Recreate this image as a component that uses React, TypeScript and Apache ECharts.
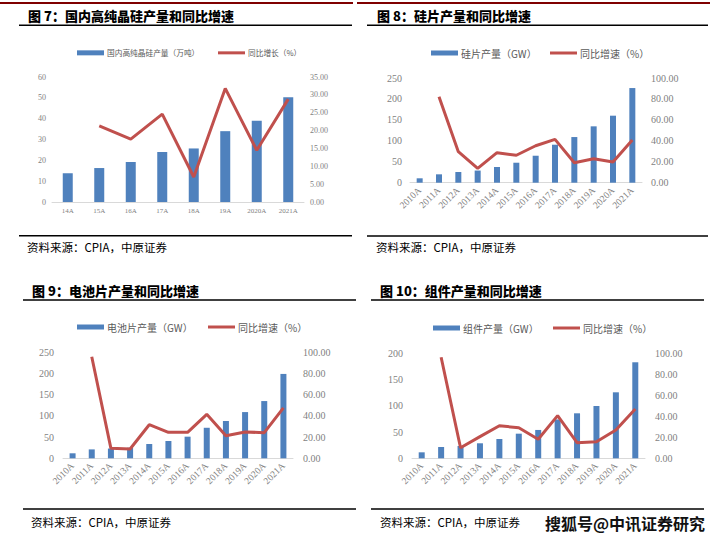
import React, { useEffect, useRef } from "react";
import * as echarts from "echarts";

const polyCats = ["14A", "15A", "16A", "17A", "18A", "19A", "2020A", "2021A"];
const polyOutput = [13.8, 16.3, 19.2, 24.0, 25.7, 34.0, 39.0, 50.3];
const polyGrowth = [null, 21.3, 17.6, 24.6, 7.0, 31.8, 14.5, 28.8];

const yearCats = ["2010A", "2011A", "2012A", "2013A", "2014A", "2015A", "2016A", "2017A", "2018A", "2019A", "2020A", "2021A"];
const waferOutput = [10.5, 20, 25.5, 29, 37.5, 47.7, 64.4, 90.7, 109, 134.6, 160, 226];
const waferGrowth = [null, 82, 29.6, 13.7, 28.7, 26.2, 35.3, 41.4, 19.1, 22.9, 19.8, 40.8];
const cellOutput = [11.8, 21, 23, 25, 33.7, 40.8, 51, 72, 88, 109, 135, 199];
const cellGrowth = [null, 95.8, 9.4, 8.8, 31.7, 24.5, 24.5, 41.5, 21.3, 24.8, 24.2, 47.5];
const moduleOutput = [11.4, 21.5, 23.4, 28.6, 36.8, 46.9, 54, 74, 85.7, 99.6, 125.7, 182.9];
const moduleGrowth = [null, 96.2, 10.1, 20.6, 31, 29.1, 18.1, 40.6, 14.9, 15.8, 27, 47];

const titles = ["图 7：国内高纯晶硅产量和同比增速", "图 8：硅片产量和同比增速", "图 9：电池片产量和同比增速", "图 10：组件产量和同比增速"];
const barNames = ["国内高纯晶硅产量（万吨）", "硅片产量（GW）", "电池片产量（GW）", "组件产量（GW）"];
const lineNames = ["同比增长（%）", "同比增速（%）", "同比增速（%）", "同比增速（%）"];
const sourceText = "资料来源：CPIA，中原证券";
const watermark = "搜狐号@中讯证券研究";

const BLUE = "#4f81bd";
const RED = "#c0504d";
const TICK = "#7f7f7f";
const SERIF = "'Liberation Serif', 'Noto Sans CJK SC', serif";
const CJK = "'Noto Sans CJK SC', sans-serif";

export default function App() {
  const ref = useRef<HTMLDivElement>(null);
  useEffect(() => {
    if (!ref.current) return;
    const chart = echarts.init(ref.current, undefined, { renderer: "svg" });

    const panels = [
      {
        cats: polyCats, bars: polyOutput, line: polyGrowth,
        grid: { left: 52, top: 77, width: 252, height: 125 },
        lmax: 60, lint: 10, rmax: 35, rint: 5,
        yFont: 8, xFont: 7, rotate: 0, barWidth: 10, lMargin: 6, rMargin: 6,
        legendY: 54, legendFont: 7.7, barLegX: 77, lineLegX: 218,
      },
      {
        cats: yearCats, bars: waferOutput, line: waferGrowth,
        grid: { left: 410, top: 78, width: 232, height: 104.7 },
        lmax: 250, lint: 50, rmax: 100, rint: 20,
        yFont: 10, xFont: 9.5, rotate: 45, barWidth: 6, lMargin: 8, rMargin: 9,
        legendY: 54, legendFont: 10, barLegX: 431, lineLegX: 550,
      },
      {
        cats: yearCats, bars: cellOutput, line: cellGrowth,
        grid: { left: 63, top: 352.3, width: 230, height: 106 },
        lmax: 250, lint: 50, rmax: 100, rint: 20,
        yFont: 10, xFont: 9.5, rotate: 45, barWidth: 6, lMargin: 9, rMargin: 10,
        legendY: 328, legendFont: 10, barLegX: 77, lineLegX: 208,
      },
      {
        cats: yearCats, bars: moduleOutput, line: moduleGrowth,
        grid: { left: 412, top: 353.3, width: 233, height: 105 },
        lmax: 200, lint: 50, rmax: 100, rint: 20,
        yFont: 10, xFont: 9.5, rotate: 45, barWidth: 6, lMargin: 9, rMargin: 10,
        legendY: 329, legendFont: 10, barLegX: 433, lineLegX: 553,
      },
    ];

    const grid: any[] = [];
    const xAxis: any[] = [];
    const yAxis: any[] = [];
    const series: any[] = [];
    const legend: any[] = [];

    panels.forEach((p, i) => {
      grid.push({ ...p.grid, containLabel: false });
      xAxis.push({
        type: "category", gridIndex: i, data: p.cats,
        axisLine: { lineStyle: { color: "#d9d9d9", width: 1 } },
        axisTick: { show: false },
        axisLabel: {
          interval: 0, rotate: p.rotate, margin: p.rotate ? 6 : 5,
          color: TICK, fontSize: p.xFont, fontFamily: SERIF,
        },
        splitLine: { show: false },
      });
      yAxis.push({
        type: "value", gridIndex: i, min: 0, max: p.lmax, interval: p.lint,
        axisLine: { show: false }, axisTick: { show: false }, splitLine: { show: false },
        axisLabel: { color: TICK, fontSize: p.yFont, fontFamily: SERIF, margin: p.lMargin },
      });
      yAxis.push({
        type: "value", gridIndex: i, position: "right", min: 0, max: p.rmax, interval: p.rint,
        axisLine: { show: false }, axisTick: { show: false }, splitLine: { show: false },
        axisLabel: {
          color: TICK, fontSize: p.yFont, fontFamily: SERIF, margin: p.rMargin,
          formatter: (v: number) => v.toFixed(2),
        },
      });
      series.push({
        type: "bar", name: barNames[i], xAxisIndex: i, yAxisIndex: 2 * i,
        data: p.bars, barWidth: p.barWidth,
        itemStyle: { color: BLUE },
      });
      series.push({
        type: "line", name: lineNames[i], xAxisIndex: i, yAxisIndex: 2 * i + 1,
        data: p.line, symbol: "none", connectNulls: false,
        lineStyle: { color: RED, width: 3 }, itemStyle: { color: RED },
      });
      const half = p.legendFont <= 8 ? 5 : 6;
      legend.push({
        data: [{ name: barNames[i], icon: "rect" }],
        left: p.barLegX, top: p.legendY - half, padding: 0,
        itemWidth: 27, itemHeight: 5, selectedMode: false,
        textStyle: { color: "#595959", fontSize: p.legendFont, fontFamily: CJK, padding: [0, 0, 0, -2] },
      });
      legend.push({
        data: [{ name: lineNames[i], icon: "rect", itemStyle: { color: RED } }],
        left: p.lineLegX, top: p.legendY - half, padding: 0,
        itemWidth: 27, itemHeight: 3, selectedMode: false,
        textStyle: { color: "#595959", fontSize: p.legendFont, fontFamily: CJK, padding: [0, 0, 0, -2] },
      });
    });

    const hline = (x1: number, x2: number, y: number, color: string, w: number) => ({
      type: "line", silent: true,
      shape: { x1, y1: y, x2, y2: y },
      style: { stroke: color, lineWidth: w },
    });
    const txt = (x: number, y: number, text: string, font: string, fill: string, extra: any = {}) => ({
      type: "text", silent: true, x, y,
      style: { text, font, fill, textVerticalAlign: "middle", ...extra },
    });

    const titleFont = `900 13px ${CJK}`;
    const srcFont = `11.5px ${CJK}`;
    const graphic: any[] = [
      hline(0, 353, 3, "#7f0000", 2),
      hline(357, 710, 3, "#7f0000", 2),
      hline(19, 352, 25.3, "#000", 1.5),
      hline(367, 708, 25.3, "#000", 1.5),
      hline(23, 356, 300, "#000", 1.5),
      hline(371, 704, 300, "#000", 1.5),
      hline(19, 352, 235.7, "#000", 1.5),
      hline(367, 708, 236, "#000", 1.5),
      hline(23, 356, 509, "#000", 1.5),
      hline(371, 704, 509, "#000", 1.5),
      txt(28, 15, titles[0], titleFont, "#000"),
      txt(377, 15, titles[1], titleFont, "#000"),
      txt(32, 290, titles[2], titleFont, "#000"),
      txt(380, 290, titles[3], titleFont, "#000"),
      txt(27, 247, sourceText, srcFont, "#000"),
      txt(376, 247, sourceText, srcFont, "#000"),
      txt(31, 522, sourceText, srcFont, "#000"),
      txt(380, 522, sourceText, srcFont, "#000"),
      txt(545, 523, watermark, `bold 16px ${CJK}`, "#111", { stroke: "#fff", lineWidth: 2 }),
    ];

    chart.setOption({
      animation: false,
      backgroundColor: "#ffffff",
      grid, xAxis, yAxis, series, legend, graphic,
    });
    return () => chart.dispose();
  }, []);
  return <div ref={ref} style={{ position: "absolute", left: 0, top: 0, width: 714, height: 541 }} />;
}
